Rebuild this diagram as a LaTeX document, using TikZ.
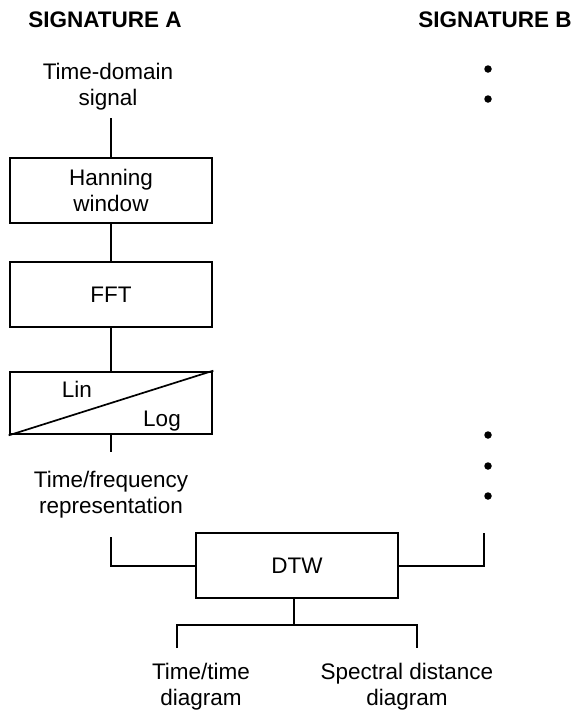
\documentclass[tikz,border=0pt]{standalone}
\usepackage{fontspec}
\setmainfont{Liberation Sans}
\begin{document}
\begin{tikzpicture}[x=1pt,y=-1pt,
  font=\fontsize{22.5}{26}\selectfont,
  title/.style={font=\fontsize{22.5}{26}\selectfont\bfseries, inner sep=0pt, anchor=base},
  label/.style={align=center, inner sep=0pt, anchor=north},
  word/.style={inner sep=0pt, anchor=base},
  stage/.style={draw, line width=2.7pt, minimum width=202pt, minimum height=65pt,
                inner sep=0pt, align=center},
  wire/.style={line width=2pt},
  dot/.style={circle, fill, inner sep=0pt, minimum size=7.5pt}]
\useasboundingbox (0,0) rectangle (576,710);

% column headings
\node[title] (siga) at (105,27) {SIGNATURE A};
\node[title] (sigb) at (495,27) {SIGNATURE B};

% signature A processing chain
\node[label] (tds) at (108,63) {Time-domain\\signal};
\node[stage] (han) at (111,190.5) {Hanning\\window};
\node[stage] (fft) at (111,294.5) {FFT};
\node[stage, minimum height=62pt] (ll) at (111,403) {};
\draw[line width=1.7pt] (ll.south west) -- (ll.north east);
\node[word] (lin) at (77,397) {Lin};
\node[word] (log) at (162,426) {Log};
\node[label] (tfr) at (111,471) {Time/frequency\\representation};

\draw[wire, shorten <=8pt] (han.north |- tds.south) -- (han.north);
\draw[wire] (han.south) -- (fft.north);
\draw[wire] (fft.south) -- (ll.north);
\draw[wire, shorten >=19pt] (ll.south) -- (ll.south |- tfr.north);

% signature B (same chain, elided)
\node[dot] (b1) at (488,69) {};
\node[dot] (b2) at (488,99) {};
\node[dot] (b3) at (488,435) {};
\node[dot] (b4) at (488,466) {};
\node[dot] (b5) at (488,496) {};

% dynamic time warping
\node[stage] (dtw) at (297,565.5) {DTW};
\coordinate (bin) at (484,533);
\draw[wire, shorten <=19pt] (ll.south |- tfr.south) |- (dtw.west);
\draw[wire] (dtw.east) -| (bin);

% outputs
\coordinate (fork) at (294,625);
\coordinate (ttend) at (177,648);
\coordinate (sdend) at (417,648);
\draw[wire] (dtw.south -| fork) -- (fork);
\draw[wire] (ttend) |- (fork) -| (sdend);
\node[label] (tt) at (201,663) {Time/time\\diagram};
\node[label] (sd) at (407,663) {Spectral distance\\diagram};
\end{tikzpicture}
\end{document}
